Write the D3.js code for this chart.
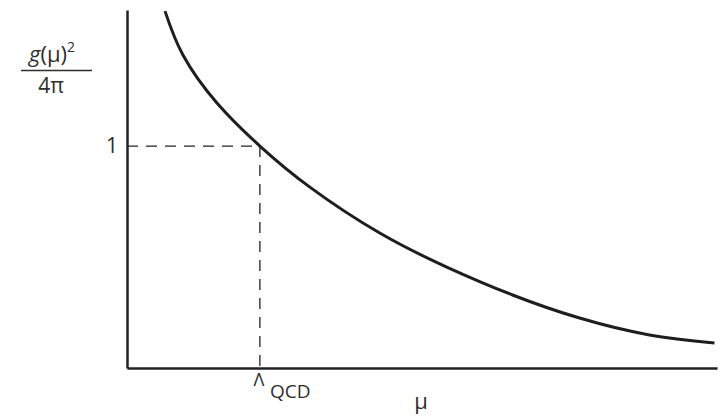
<!DOCTYPE html>
<html>
<head>
<meta charset="utf-8">
<script src="https://cdn.jsdelivr.net/npm/d3@7"></script>
<style>
    body { margin: 0; background: #fff; }
    svg { display: block; font-family: "Open Sans", "Noto Sans", sans-serif; }
    text { fill: #2e2e2e; }
</style>
</head>
<body>
<svg id="graph"></svg>
<script>
// running coupling curve (mu in units of Lambda_QCD)
const muValues = [0.286, 0.421, 0.677, 1.0, 1.376, 1.902, 2.406, 2.902, 3.406, 3.932, 4.421];
const couplingValues = [1.608, 1.41, 1.194, 1.0, 0.815, 0.608, 0.455, 0.329, 0.225, 0.149, 0.113];
const yTicks = [1];
const lambdaQCD = 1.0;
const muMax = 4.44;
const couplingMax = 1.613;

const width = 727;
const height = 418;
const plotLeft = 127, plotRight = 717, plotTop = 10, plotBottom = 368;

let svg = d3.select("#graph").attr("width", width).attr("height", height);

let scaleX = d3.scaleLinear().domain([0, muMax]).range([plotLeft, plotRight]);
let scaleY = d3.scaleLinear().domain([0, couplingMax]).range([plotBottom, plotTop]);

let data = muValues.map((m, i) => ({mu: m, g: couplingValues[i]}));

// dashed guides at g^2/4pi = 1
let atOne = scaleY(1);
svg.append("line")
    .attr("x1", scaleX(0)).attr("x2", scaleX(lambdaQCD))
    .attr("y1", atOne).attr("y2", atOne)
    .attr("stroke", "#222").attr("stroke-width", 1.3)
    .attr("stroke-dasharray", "11,8");
svg.append("line")
    .attr("x1", scaleX(lambdaQCD)).attr("x2", scaleX(lambdaQCD))
    .attr("y1", atOne).attr("y2", scaleY(0))
    .attr("stroke", "#222").attr("stroke-width", 1.3)
    .attr("stroke-dasharray", "11,8");

// axes
let axisY = d3.axisLeft(scaleY)
    .tickValues(yTicks)
    .tickFormat(d3.format("d"))
    .tickSize(0).tickSizeOuter(0).tickPadding(9);
let gy = svg.append("g")
    .attr("transform", "translate(" + plotLeft + ",0)")
    .call(axisY);
gy.select(".domain").attr("stroke", "#222").attr("stroke-width", 2.5);
gy.selectAll(".tick text")
    .attr("font-size", 21)
    .attr("font-family", "Open Sans, sans-serif")
    .attr("fill", "#2e2e2e");

let axisX = d3.axisBottom(scaleX).tickValues([]).tickSizeOuter(0);
let gx = svg.append("g")
    .attr("transform", "translate(0," + plotBottom + ")")
    .call(axisX);
gx.select(".domain").attr("stroke", "#222").attr("stroke-width", 2.5);

// curve
let line = d3.line()
    .x(d => scaleX(d.mu))
    .y(d => scaleY(d.g))
    .curve(d3.curveNatural);
svg.append("path")
    .datum(data)
    .attr("d", line)
    .attr("fill", "none")
    .attr("stroke", "#1e1e1e")
    .attr("stroke-width", 3);

// y label: g(mu)^2 / 4pi
let yl = svg.append("text").attr("x", 29).attr("y", 62).attr("font-size", 22);
yl.append("tspan").attr("font-style", "italic").text("g");
yl.append("tspan").text("(μ)");
yl.append("tspan").attr("font-size", 14).attr("dy", -10).text("2");
svg.append("line")
    .attr("x1", 21).attr("x2", 92).attr("y1", 70.5).attr("y2", 70.5)
    .attr("stroke", "#2e2e2e").attr("stroke-width", 1.3);
svg.append("text").attr("x", 51).attr("y", 93).attr("font-size", 21)
    .attr("text-anchor", "middle").text("4π");

// x labels
svg.append("text")
    .attr("x", scaleX(lambdaQCD) - 1).attr("y", 386)
    .attr("text-anchor", "middle")
    .attr("font-size", 18)
    .text("Λ");
svg.append("text")
    .attr("x", 270).attr("y", 398)
    .attr("font-size", 19)
    .text("QCD");
svg.append("text")
    .attr("x", 421).attr("y", 409)
    .attr("text-anchor", "middle")
    .attr("font-size", 22)
    .text("μ");
</script>
</body>
</html>
